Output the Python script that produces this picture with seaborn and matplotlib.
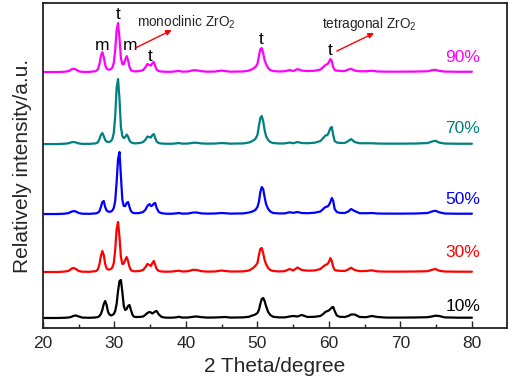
import matplotlib
matplotlib.use("Agg")
import matplotlib.pyplot as plt
import seaborn as sns
import pandas as pd
import numpy as np
from matplotlib.ticker import MultipleLocator

# ---------------- data ----------------
two_theta = [
    20.0, 21.0, 22.0, 23.0, 23.6, 24.0, 24.3, 24.6, 25.0, 25.5,
    26.5, 27.3, 27.5, 27.7, 27.9, 28.1, 28.3, 28.5, 28.7, 28.9,
    29.1, 29.3, 29.5, 29.7, 29.9, 30.1, 30.3, 30.5, 30.7, 30.9,
    31.1, 31.3, 31.5, 31.7, 31.9, 32.1, 32.3, 32.5, 32.7, 32.9,
    33.5, 34.0, 34.3, 34.6, 34.9, 35.1, 35.3, 35.5, 35.7, 35.9,
    36.2, 36.6, 37.2, 38.0, 38.6, 39.0, 39.5, 40.3, 41.0, 41.5,
    42.2, 43.0, 44.0, 45.0, 45.5, 46.2, 47.0, 48.0, 48.8, 49.3,
    49.7, 50.0, 50.2, 50.4, 50.6, 50.8, 51.0, 51.2, 51.5, 51.8,
    52.2, 53.0, 53.8, 54.5, 55.0, 55.6, 56.2, 57.0, 58.0, 58.8,
    59.2, 59.5, 59.8, 60.0, 60.2, 60.4, 60.6, 60.8, 61.1, 61.5,
    62.2, 62.7, 63.1, 63.6, 64.3, 65.2, 66.0, 66.8, 68.0, 70.0,
    72.0, 73.8, 74.4, 74.9, 75.4, 76.2, 78.0, 80.0,
]

int_10 = [
    0, 0, 0, 0.2, 0.5, 1.2, 2.2, 2.5, 1.5, 0.4,
    0.2, 0.5, 0.7, 1, 2, 4, 8, 14, 17, 13,
    6, 3.5, 2.5, 3, 4, 7, 14, 27, 37, 38,
    26, 12, 8, 9, 12, 13, 8, 3.5, 1.5, 1,
    1, 1.5, 3, 5, 6, 5.5, 4.5, 5.5, 6.5, 7,
    3.5, 1, 0.3, 0.3, 0.6, 1.2, 0.4, 0.5, 1.2, 1.5,
    0.8, 0.4, 0.5, 0.8, 1.0, 0.4, 0.5, 0.6, 1.2, 2.5,
    3.5, 5, 8, 14, 19, 20, 17, 12, 6, 3,
    1.2, 0.6, 0.6, 1.5, 2, 1.5, 3, 1, 1.2, 2,
    4, 6, 7, 7.5, 9, 10.5, 11, 7, 2.5, 1.2,
    1, 2, 3.5, 3.5, 1, 0.8, 2, 1, 0.4, 0.4,
    0.5, 0.8, 1.5, 2.3, 2, 0.6, 0.3, 0.3,
]

int_30 = [
    0, 0, 0, 0.4, 1.2, 3.4, 4.0, 3.0, 1.0, 0.3,
    0.2, 0.8, 1.2, 3, 8, 16, 21, 17, 8, 3.5,
    2.5, 2.5, 3, 4.5, 9, 22, 43, 50, 35, 15,
    8, 8.5, 12, 15, 11, 5, 2, 1.2, 0.8, 0.7,
    1, 2, 4.5, 8, 7, 6, 9, 11, 7, 3,
    1, 0.5, 0.3, 0.4, 1.0, 1.3, 0.5, 0.8, 2.2, 2.0,
    0.8, 0.4, 0.5, 1.5, 1.0, 0.5, 0.5, 0.6, 1.5, 3.5,
    6, 9, 17, 23, 24, 19, 12, 8, 4, 2,
    1, 0.6, 0.8, 3, 1.5, 4.5, 2, 1.3, 1.5, 3,
    5.5, 7, 8, 10, 14, 11, 5, 2, 1.5, 1.2,
    1, 2.5, 4.3, 2, 0.8, 1.0, 1.7, 0.6, 0.4, 0.4,
    0.5, 0.8, 2.2, 3.0, 1.3, 0.5, 0.3, 0.3,
]

int_50 = [
    0, 0, 0, 0.3, 1.0, 2.4, 3.0, 2.5, 1.0, 0.3,
    0.2, 0.6, 0.8, 1.5, 3, 7, 12, 13, 7, 3.5,
    2.5, 2.2, 2.5, 3.5, 6, 13, 32, 55, 62, 38,
    14, 8, 8, 11, 12, 7, 3, 1.5, 1, 0.8,
    1, 2, 4, 8, 10, 8, 8.5, 10.5, 11, 6,
    2, 0.8, 0.3, 0.3, 0.6, 1.0, 0.4, 0.5, 1.5, 1.5,
    0.6, 0.4, 0.5, 1.0, 0.8, 0.4, 0.5, 0.6, 1.5, 2.5,
    4, 7, 12, 22, 27, 25, 17, 10, 5, 2.5,
    1, 0.6, 0.6, 1.8, 1.2, 2, 1, 0.8, 1.3, 2.5,
    5, 7, 7.5, 9, 12, 16, 13, 5, 2, 1.2,
    1, 2.5, 5, 3, 0.8, 0.8, 1.0, 0.5, 0.4, 0.4,
    0.5, 1, 2.5, 3.3, 1.8, 0.5, 0.3, 0.3,
]

int_70 = [
    0, 0, 0, 0.3, 0.8, 1.8, 2.0, 1.6, 0.6, 0.2,
    0.2, 0.6, 1.0, 2, 5, 9, 11, 8, 4, 2.5,
    2, 2.2, 3, 5, 11, 28, 56, 65, 45, 17,
    8, 6, 7, 9.5, 7.5, 3.5, 1.8, 1.2, 0.8, 0.7,
    1, 2, 4, 7.5, 7, 6.5, 9, 10, 6, 2.5,
    1, 0.5, 0.3, 0.3, 0.6, 1.0, 0.4, 0.5, 1.3, 1.3,
    0.6, 0.4, 0.5, 1.0, 0.8, 0.4, 0.5, 0.6, 1.5, 3,
    5, 9, 18, 26, 28, 23, 14, 8, 4, 2,
    1, 0.6, 0.6, 1.5, 0.8, 2, 1, 0.8, 1.3, 3,
    6, 8.5, 9, 12, 16, 17, 9, 3, 1.5, 1.2,
    1, 3, 5, 2, 0.8, 0.8, 0.8, 0.5, 0.4, 0.4,
    0.5, 1, 2.5, 3.3, 1.5, 0.5, 0.3, 0.3,
]

int_90 = [
    0, 0, 0, 0.3, 1.0, 2.8, 3.3, 2.6, 0.8, 0.2,
    0.2, 0.8, 1.5, 3, 8, 16, 20, 15, 7, 3.5,
    2.5, 2.5, 3, 4.5, 9, 22, 42, 49, 34, 14,
    8, 8, 12, 16, 12, 5, 2, 1.2, 0.8, 0.7,
    1, 2, 4.5, 8, 7, 6.5, 9, 10, 6, 2.5,
    1, 0.5, 0.3, 0.3, 0.8, 1.2, 0.4, 0.6, 1.8, 1.8,
    0.8, 0.4, 0.5, 1.5, 1.0, 0.4, 0.5, 0.6, 1.5, 3,
    5, 8, 16, 23, 24, 19, 12, 8, 4, 2,
    1, 0.6, 0.8, 2, 1, 3, 1.5, 1, 1.3, 2.5,
    5, 7, 8, 10, 13, 11, 5, 2, 1.5, 1.2,
    1, 2.5, 3.3, 1.5, 0.8, 0.8, 1.3, 0.6, 0.4, 0.4,
    0.5, 0.8, 1.8, 2.3, 1.2, 0.5, 0.3, 0.3,
]

samples = ["10%", "30%", "50%", "70%", "90%"]
intensities = [int_10, int_30, int_50, int_70, int_90]
offsets = [10, 56, 114, 184, 256]
colors = ["#000000", "#FF0000", "#0000FF", "#008080", "#FF00FF"]

x_ticks = [20, 30, 40, 50, 60, 70, 80]

# ---------------- build table ----------------
rows = []
for name, vals, off in zip(samples, intensities, offsets):
    assert len(vals) == len(two_theta), (name, len(vals), len(two_theta))
    for xv, yv in zip(two_theta, vals):
        rows.append({"two_theta": xv, "intensity": yv + off, "sample": name})
df = pd.DataFrame(rows)

# ---------------- plot ----------------
sns.set_style("ticks")
plt.rcParams["font.family"] = ["Liberation Sans", "DejaVu Sans"]
plt.rcParams["mathtext.fontset"] = "custom"
plt.rcParams["mathtext.rm"] = "Liberation Sans"

fig = plt.figure(figsize=(5.10, 3.87), dpi=100)
ax = fig.add_axes([0.0843, 0.1525, 0.9097, 0.8395])

sns.lineplot(data=df, x="two_theta", y="intensity", hue="sample",
             hue_order=samples, palette=colors, linewidth=1.6,
             legend=False, ax=ax, sort=False)

ax.set_xlim(20, 84.9)
ax.set_ylim(0, 325)
ax.set_xticks(x_ticks)
ax.xaxis.set_minor_locator(MultipleLocator(5))
ax.set_yticks([])
ax.tick_params(axis="x", which="major", direction="in", length=5, width=1,
               labelsize=12.5, pad=6, top=False)
ax.tick_params(axis="x", which="minor", direction="in", length=3, width=1, top=False)
for sp in ax.spines.values():
    sp.set_visible(True)
    sp.set_color("#222222")
    sp.set_linewidth(1.3)

ax.set_xlabel("2 Theta/degree", fontsize=15, labelpad=4)
ax.set_ylabel("Relatively intensity/a.u.", fontsize=15, labelpad=8)

# sample labels
label_y = [21, 76, 129, 200, 271]
for name, ly, c in zip(samples, label_y, colors):
    ax.text(78.7, ly, name, color=c, fontsize=12.5, ha="center", va="center")

# phase marks
marks = [("m", 28.25, 283), ("t", 30.45, 314), ("m", 32.2, 283),
         ("t", 35.0, 272), ("t", 50.45, 289), ("t", 60.1, 278)]
for txt, mx, my in marks:
    ax.text(mx, my, txt, fontsize=12.5, ha="center", va="center", color="black")

ax.text(33.1, 306, "monoclinic ZrO$_2$", fontsize=9.8, ha="left", va="center")
ax.annotate("", xy=(38.0, 298), xytext=(32.9, 280),
            arrowprops=dict(arrowstyle="-|>", color="red", lw=1.0,
                            mutation_scale=8, shrinkA=0, shrinkB=0))
ax.text(59.0, 304, "tetragonal ZrO$_2$", fontsize=9.8, ha="left", va="center")
ax.annotate("", xy=(66.3, 295), xytext=(61.1, 277),
            arrowprops=dict(arrowstyle="-|>", color="red", lw=1.0,
                            mutation_scale=8, shrinkA=0, shrinkB=0))

fig.savefig("out.png", dpi=100)
